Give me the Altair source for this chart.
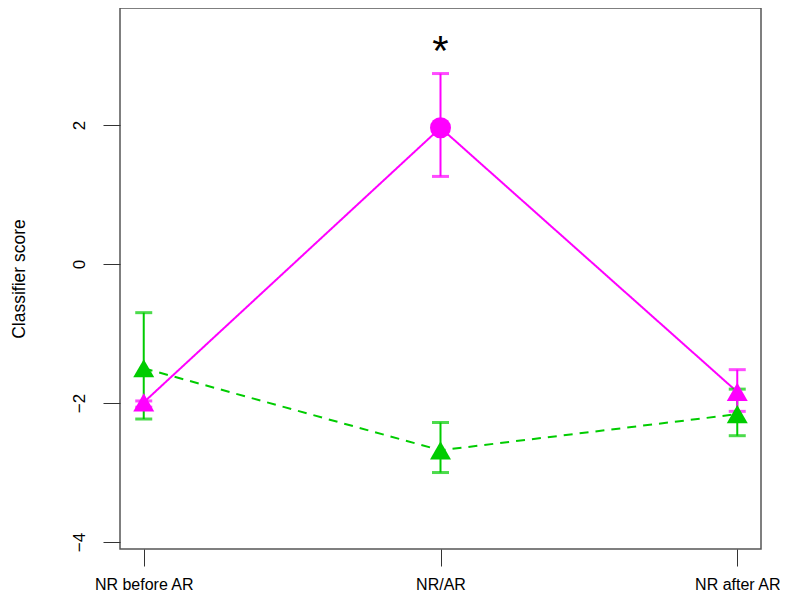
import altair as alt
import pandas as pd

categories = ["NR before AR", "NR/AR", "NR after AR"]
positions = [1, 2, 3]

magenta_mean = [-1.99, 1.96, -1.84]
magenta_hi = [-1.97, 2.74, -1.52]
magenta_lo = [-2.06, 1.26, -2.12]
magenta_shape = ["triangle", "circle", "triangle"]

green_mean = [-1.50, -2.68, -2.16]
green_hi = [-0.70, -2.28, -1.80]
green_lo = [-2.23, -3.00, -2.47]
green_shape = ["triangle", "triangle", "triangle"]

star_pos = [2]
star_val = [3.05]
star_text = ["*"]

y_ticks = [-4, -2, 0, 2]

MAG = "#FF00FF"
GRN = "#00CC00"

mag = pd.DataFrame({"pos": positions, "cat": categories, "mean": magenta_mean,
                    "hi": magenta_hi, "lo": magenta_lo, "shape": magenta_shape})
grn = pd.DataFrame({"pos": positions, "cat": categories, "mean": green_mean,
                    "hi": green_hi, "lo": green_lo, "shape": green_shape})
star = pd.DataFrame({"pos": star_pos, "val": star_val, "t": star_text})

label_expr = "[" + ",".join('"%s"' % c for c in categories) + "][datum.value - 1]"

xs = alt.Scale(domain=[0.92, 3.08], nice=False, zero=False)
ys = alt.Scale(domain=[-4.1, 3.683], nice=False, zero=False)

x_enc = alt.X("pos:Q", scale=xs, title=None,
              axis=alt.Axis(values=positions, labelExpr=label_expr, grid=False, domain=False,
                            tickSize=17, tickColor="#333333", tickWidth=1,
                            labelFontSize=16, labelColor="#000000", labelPadding=10,
                            labelFont="Liberation Sans"))
y_enc = alt.Y("mean:Q", scale=ys, title="Classifier score",
              axis=alt.Axis(values=y_ticks, format="d", grid=False, domain=False,
                            tickSize=17, tickColor="#333333", tickWidth=1,
                            labelAngle=-90, labelAlign="center", labelBaseline="bottom",
                            labelFontSize=17, labelColor="#000000", labelPadding=15,
                            labelFont="Liberation Sans",
                            titleFont="Liberation Sans", titleFontSize=17.5,
                            titleFontWeight="normal", titleColor="#000000",
                            titlePadding=42))

shape_scale = alt.Scale(domain=["triangle", "circle"], range=["triangle-up", "circle"])


def series(df, color, dash, size_pt):
    base = alt.Chart(df)
    line = base.mark_line(color=color, strokeWidth=2, strokeDash=dash).encode(x=x_enc, y=y_enc)
    rule = base.mark_rule(color=color, strokeWidth=2).encode(
        x=alt.X("pos:Q", scale=xs), y=alt.Y("hi:Q", scale=ys), y2="lo:Q")
    cap_hi = base.mark_tick(color=color, thickness=3, size=17, orient="horizontal").encode(
        x=alt.X("pos:Q", scale=xs), y=alt.Y("hi:Q", scale=ys))
    cap_lo = base.mark_tick(color=color, thickness=3, size=17, orient="horizontal").encode(
        x=alt.X("pos:Q", scale=xs), y=alt.Y("lo:Q", scale=ys))
    pts = base.mark_point(filled=True, opacity=1, color=color, size=size_pt).encode(
        x=alt.X("pos:Q", scale=xs), y=alt.Y("mean:Q", scale=ys),
        shape=alt.Shape("shape:N", scale=shape_scale, legend=None))
    return line, rule, cap_hi, cap_lo, pts


g_line, g_rule, g_ch, g_cl, g_pts = series(grn, GRN, [9, 7], 440)
m_line, m_rule, m_ch, m_cl, m_pts = series(mag, MAG, [1, 0], 440)

star_mark = alt.Chart(star).mark_text(fontSize=42, font="Liberation Sans", color="#000000",
                                      baseline="middle", align="center").encode(
    x=alt.X("pos:Q", scale=xs), y=alt.Y("val:Q", scale=ys), text="t:N")

chart = alt.layer(
    g_line, m_line, g_rule, g_ch, g_cl, m_rule, m_ch, m_cl, g_pts, m_pts, star_mark
).properties(
    width=641, height=541,
    autosize=alt.AutoSizeParams(type="none"),
    padding={"left": 112, "top": 0, "right": 19, "bottom": 46},
    background="white",
).configure_view(stroke="#555555", strokeWidth=1.5)

chart.save("out.html", embed_options={"renderer": "svg", "actions": False})
